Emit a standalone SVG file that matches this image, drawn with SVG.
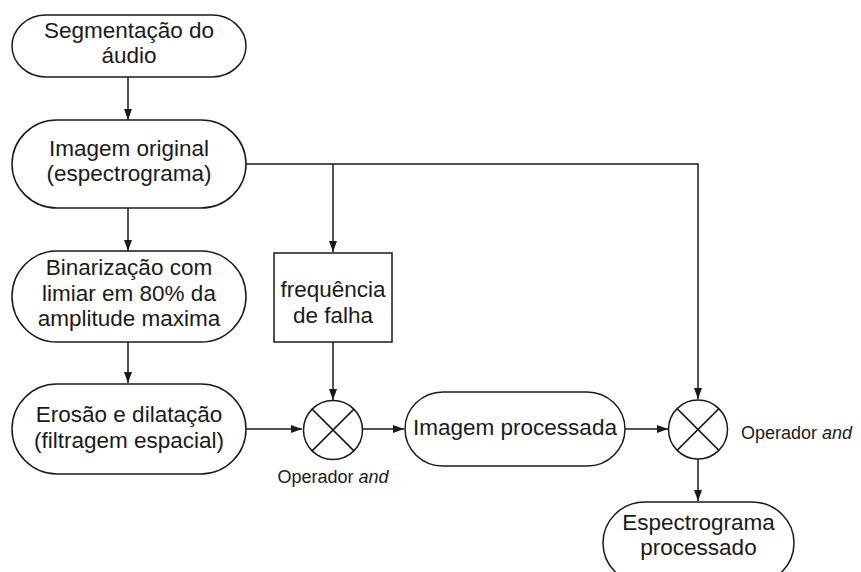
<svg xmlns="http://www.w3.org/2000/svg" width="861" height="572" viewBox="0 0 861 572">
<defs>
<marker id="arr" markerWidth="12" markerHeight="10" refX="11" refY="4" orient="auto" markerUnits="userSpaceOnUse">
<path d="M0,0 L11,4 L0,8 Z" fill="#1a1a1a"/>
</marker>
</defs>
<style>
.sh{fill:#ffffff;stroke:#1a1a1a;stroke-width:1.5}
.t{font-family:"Liberation Sans",Arial,sans-serif;font-size:22.5px;fill:#1a1a1a;text-anchor:middle}
.s{font-family:"Liberation Sans",Arial,sans-serif;font-size:18px;fill:#1a1a1a}
.c{fill:none;stroke:#1a1a1a;stroke-width:1.5}
</style>
<rect width="861" height="572" fill="#ffffff"/>
<g id="connectors">
<path class="c" d="M128,77 L128,120" marker-end="url(#arr)"/>
<path class="c" d="M128,208 L128,251" marker-end="url(#arr)"/>
<path class="c" d="M128,342 L128,383" marker-end="url(#arr)"/>
<path class="c" d="M246,164 L698,164 L698,399" marker-end="url(#arr)"/>
<path class="c" d="M333,164 L333,252" marker-end="url(#arr)"/>
<path class="c" d="M333,342 L333,400" marker-end="url(#arr)"/>
<path class="c" d="M246,429 L302,429" marker-end="url(#arr)"/>
<path class="c" d="M363,429 L404,429" marker-end="url(#arr)"/>
<path class="c" d="M625,429 L668,429" marker-end="url(#arr)"/>
<path class="c" d="M698,459 L698,501" marker-end="url(#arr)"/>
</g>
<g id="n1">
<rect class="sh" x="12" y="15" width="234" height="62" rx="34" ry="31"/>
<text class="t" x="129" y="38">Segmentação do</text>
<text class="t" x="129" y="63">áudio</text>
</g>
<g id="n2">
<rect class="sh" x="12" y="120" width="234" height="88" rx="45" ry="44"/>
<text class="t" x="129" y="156">Imagem original</text>
<text class="t" x="129" y="181">(espectrograma)</text>
</g>
<g id="n3">
<rect class="sh" x="12" y="251" width="234" height="91" rx="45" ry="45.5"/>
<text class="t" x="129" y="275">Binarização com</text>
<text class="t" x="129" y="301">limiar em 80% da</text>
<text class="t" x="129" y="326">amplitude maxima</text>
</g>
<g id="n4">
<rect class="sh" x="12" y="384" width="234" height="90" rx="45" ry="45"/>
<text class="t" x="129" y="422">Erosão e dilatação</text>
<text class="t" x="129" y="448">(filtragem espacial)</text>
</g>
<g id="n5">
<rect class="sh" x="274" y="253" width="118" height="89"/>
<text class="t" x="333" y="297">frequência</text>
<text class="t" x="333" y="323">de falha</text>
</g>
<g id="op1">
<circle class="sh" cx="333" cy="430" r="29.5"/>
<path class="c" d="M312.1,409.1 L353.9,450.9 M353.9,409.1 L312.1,450.9"/>
<text class="s" x="333" y="483" text-anchor="middle">Operador <tspan font-style="italic">and</tspan></text>
</g>
<g id="n6">
<rect class="sh" x="405" y="392" width="220" height="74" rx="38" ry="37"/>
<text class="t" x="515" y="435">Imagem processada</text>
</g>
<g id="op2">
<circle class="sh" cx="698" cy="429.5" r="29.5"/>
<path class="c" d="M677.1,408.6 L718.9,450.4 M718.9,408.6 L677.1,450.4"/>
<text class="s" x="741" y="439">Operador <tspan font-style="italic">and</tspan></text>
</g>
<g id="n7">
<rect class="sh" x="603" y="502" width="191" height="82" rx="42" ry="41"/>
<text class="t" x="698.5" y="530">Espectrograma</text>
<text class="t" x="698.5" y="555">processado</text>
</g>
</svg>
